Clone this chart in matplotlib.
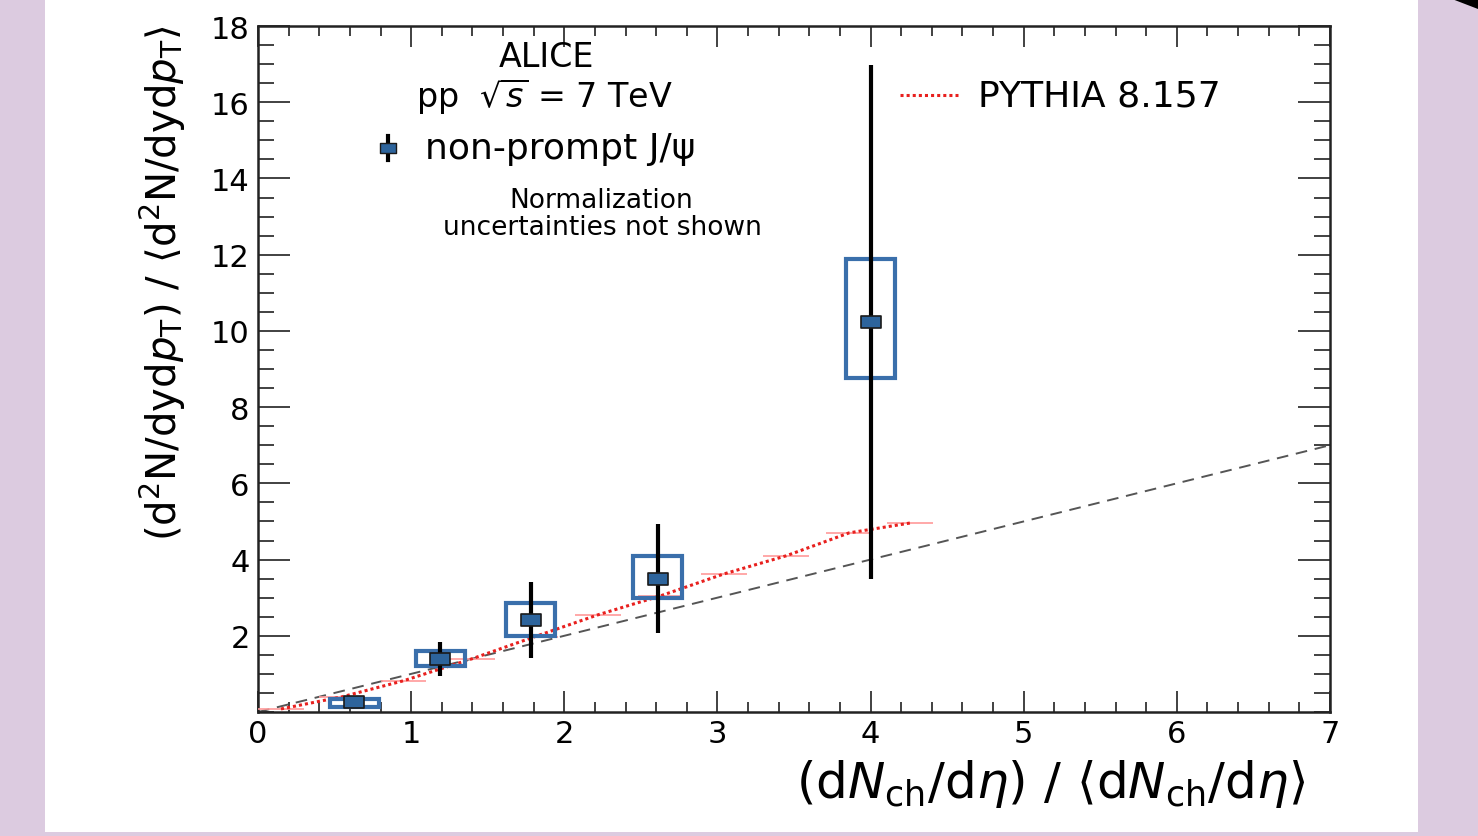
import matplotlib
matplotlib.use("Agg")
import matplotlib.pyplot as plt
from matplotlib.patches import Rectangle, Polygon
from matplotlib.path import Path
from matplotlib.ticker import MultipleLocator
import numpy as np

plt.rcParams['font.family'] = ['DejaVu Sans']
plt.rcParams['mathtext.fontset'] = 'dejavusans'

# ---- data: non-prompt J/psi ----
jpsi_x = [0.63, 1.19, 1.78, 2.61, 4.00]
jpsi_y = [0.25, 1.39, 2.41, 3.49, 10.24]
jpsi_stat = [0.10, 0.45, 0.99, 1.43, 6.74]
jpsi_sys_lo = [0.14, 1.20, 2.00, 2.99, 8.77]
jpsi_sys_hi = [0.35, 1.60, 2.86, 4.10, 11.89]
sys_halfwidth = 0.16

# ---- data: PYTHIA 8.157 ----
py_x = [0.15, 0.55, 0.95, 1.40, 1.81, 2.22, 2.63, 3.04, 3.45, 3.86, 4.26]
py_y = [0.08, 0.40, 0.82, 1.40, 1.98, 2.55, 3.05, 3.62, 4.10, 4.70, 4.96]
py_xerr = 0.15

# ---- reference line y = x ----
ref_x = [0.0, 7.0]
ref_y = [0.0, 7.0]

x_ticks = [0, 1, 2, 3, 4, 5, 6, 7]
y_ticks = [2, 4, 6, 8, 10, 12, 14, 16, 18]

W, H = 1478, 837
fig = plt.figure(figsize=(W / 100, H / 100), dpi=100)
fig.patch.set_facecolor('#dccbe0')
fig.patches.append(Rectangle((45 / W, 4 / H), (1418 - 45) / W, 1 - 4 / H,
                             transform=fig.transFigure, facecolor='white',
                             edgecolor='none', zorder=-10))
fig.patches.append(Polygon([(1452 / W, 1.0), (1478 / W, 1.0), (1478 / W, 1 - 10 / H)],
                           closed=True, transform=fig.transFigure,
                           facecolor='black', edgecolor='none', zorder=-10))

ax = fig.add_axes([258 / W, 1 - 713 / H, (1330 - 258) / W, (713 - 27) / H])
ax.set_zorder(5)
ax.set_facecolor('white')
ax.set_xlim(0, 7)
ax.set_ylim(0, 18)

blue_box = '#3a6fab'
blue_fill = '#2d649c'
red = '#e8201e'

# y = x dashed line
dline, = ax.plot(ref_x, ref_y, color='#555555', lw=1.4, zorder=2)
dline.set_dashes([6, 4])

# PYTHIA
ax.errorbar(py_x, py_y, xerr=py_xerr, fmt='none', ecolor='#ff9a9a',
            elinewidth=1.2, capsize=0, zorder=3)
pl, = ax.plot(py_x, py_y, color=red, lw=2.2, zorder=4)
pl.set_dashes([1, 1])

# systematic boxes
for xc, lo, hi in zip(jpsi_x, jpsi_sys_lo, jpsi_sys_hi):
    ax.add_patch(Rectangle((xc - sys_halfwidth, lo), 2 * sys_halfwidth, hi - lo,
                           facecolor='none', edgecolor=blue_box, lw=3.0, zorder=5))

# data points
rect_marker = Path([(-0.75, -0.5), (0.75, -0.5), (0.75, 0.5), (-0.75, 0.5), (-0.75, -0.5)],
                   [Path.MOVETO, Path.LINETO, Path.LINETO, Path.LINETO, Path.CLOSEPOLY])
ax.errorbar(jpsi_x, jpsi_y, yerr=jpsi_stat, fmt='none', ecolor='black',
            elinewidth=3.0, capsize=0, zorder=6)
ax.plot(jpsi_x, jpsi_y, linestyle='none', marker=rect_marker, markersize=14,
        markerfacecolor=blue_fill, markeredgecolor='#1a1a1a', markeredgewidth=1.2,
        zorder=7)

# ticks
ax.set_xticks(x_ticks)
ax.set_yticks(y_ticks)
ax.xaxis.set_minor_locator(MultipleLocator(0.2))
ax.yaxis.set_minor_locator(MultipleLocator(0.5))
ax.tick_params(axis='both', which='both', direction='in', top=True, right=True,
               colors='#333333', width=1.3)
ax.tick_params(axis='x', which='major', length=15, labelsize=22, pad=5,
               labelcolor='black')
ax.tick_params(axis='x', which='minor', length=7.5)
ax.tick_params(axis='y', which='major', length=23, labelsize=22, pad=6,
               labelcolor='black')
ax.tick_params(axis='y', which='minor', length=11.5)
for s in ax.spines.values():
    s.set_linewidth(1.8)
    s.set_color('#222222')

# axis titles
ax.set_xlabel(r'$(\mathrm{d}N_{\mathrm{ch}}/\mathrm{d}\eta)\ /\ \langle\mathrm{d}N_{\mathrm{ch}}/\mathrm{d}\eta\rangle$',
              fontsize=36, loc='right')
ax.xaxis.set_label_coords((1305 - 258) / 1072, (713 - 758) / 686)
ax.set_ylabel(r'$(\mathrm{d}^2\mathrm{N}/\mathrm{dyd}p_{\mathrm{T}})\ /\ \langle\mathrm{d}^2\mathrm{N}/\mathrm{dyd}p_{\mathrm{T}}\rangle$',
              fontsize=29, loc='top')
ax.yaxis.set_label_coords((188 - 258) / 1072, (713 - 25) / 686)

# texts
ax.text(0.2687, 0.955, 'ALICE', transform=ax.transAxes, ha='center', va='center', fontsize=24)
ax.text(0.2677, 0.900, r'pp  $\sqrt{s}$ = 7 TeV', transform=ax.transAxes, ha='center',
        va='center', fontsize=24)
ax.text(0.1558, 0.822, 'non-prompt J/ψ', transform=ax.transAxes, ha='left', va='center', fontsize=26)
ax.text(0.320, 0.747, 'Normalization', transform=ax.transAxes, ha='center', va='center', fontsize=19)
ax.text(0.321, 0.707, 'uncertainties not shown', transform=ax.transAxes, ha='center',
        va='center', fontsize=19)
ax.text(0.6716, 0.8994, 'PYTHIA 8.157', transform=ax.transAxes, ha='left', va='center', fontsize=26)

# legend symbols
ax.plot([0.1213, 0.1213], [0.822 - 0.018, 0.822 + 0.018], transform=ax.transAxes,
        color='black', lw=3.0, zorder=6)
ax.plot([0.1213], [0.822], transform=ax.transAxes, linestyle='none', marker=rect_marker,
        markersize=11, markerfacecolor=blue_fill, markeredgecolor='#1a1a1a',
        markeredgewidth=1.0, zorder=7)
ll, = ax.plot([0.5989, 0.6530], [0.8994, 0.8994], transform=ax.transAxes, color=red, lw=2.2)
ll.set_dashes([1, 1])

fig.savefig('out.png', dpi=100, facecolor=fig.get_facecolor())
